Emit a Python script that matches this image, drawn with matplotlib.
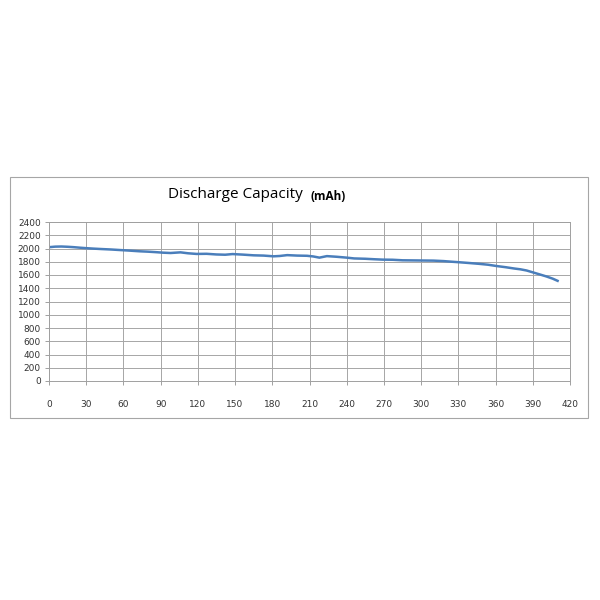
import matplotlib.pyplot as plt
from matplotlib.patches import Rectangle

# readings
cycles = [0, 5, 10, 15, 20, 25, 30, 36, 42, 50, 57, 65, 73, 80, 86, 92, 98,
          106, 112, 119, 127, 135, 142, 148, 156, 165, 173, 181, 186, 192,
          200, 208, 213, 218, 224, 232, 240, 246, 255, 262, 269, 277, 285,
          295, 305, 310, 318, 325, 331, 338, 347, 354, 361, 368, 375, 380,
          385, 390, 395, 401, 406, 410]
capacity = [2020, 2028, 2030, 2026, 2020, 2012, 2005, 1998, 1992, 1985, 1977,
            1968, 1958, 1952, 1945, 1937, 1932, 1942, 1928, 1918, 1920, 1910,
            1906, 1916, 1908, 1897, 1893, 1882, 1887, 1900, 1893, 1890, 1880,
            1862, 1885, 1875, 1862, 1850, 1845, 1838, 1832, 1830, 1822, 1820,
            1818, 1817, 1810, 1800, 1792, 1782, 1768, 1755, 1735, 1718, 1698,
            1686, 1668, 1640, 1612, 1578, 1545, 1512]

xticks = list(range(0, 421, 30))
yticks = list(range(0, 2401, 200))

fig = plt.figure(figsize=(6, 6), dpi=100)
fig.patches.append(Rectangle((10 / 600, 1 - 418 / 600), 578 / 600, 241 / 600,
                             transform=fig.transFigure, fill=False,
                             edgecolor='#a6a6a6', linewidth=0.8))

ax = fig.add_axes([49 / 600, 1 - 381 / 600, 521 / 600, 159 / 600])
ax.plot(cycles, capacity, color='#4a7ebb', linewidth=1.8)

ax.set_xlim(0, 420)
ax.set_ylim(0, 2400)
ax.set_xticks(xticks)
ax.set_yticks(yticks)
ax.grid(True, color='#a6a6a6', linewidth=0.7)
for s in ax.spines.values():
    s.set_color('#a0a0a0')
    s.set_linewidth(0.7)
ax.tick_params(axis='x', length=3, width=0.7, color='#a0a0a0', pad=11,
               labelsize=6.5, labelcolor='#333333')
ax.tick_params(axis='y', length=3, width=0.7, color='#a0a0a0', pad=3,
               labelsize=6.5, labelcolor='#333333')

fig.text(235 / 600, 1 - 195 / 600, 'Discharge Capacity', ha='center',
         va='center', fontsize=11, family='Open Sans')
fig.text(328 / 600, 1 - 197 / 600, '(mAh)', ha='center', va='center',
         fontsize=8.5, fontweight='bold', family='Open Sans')

fig.savefig('out.png', dpi=100)
